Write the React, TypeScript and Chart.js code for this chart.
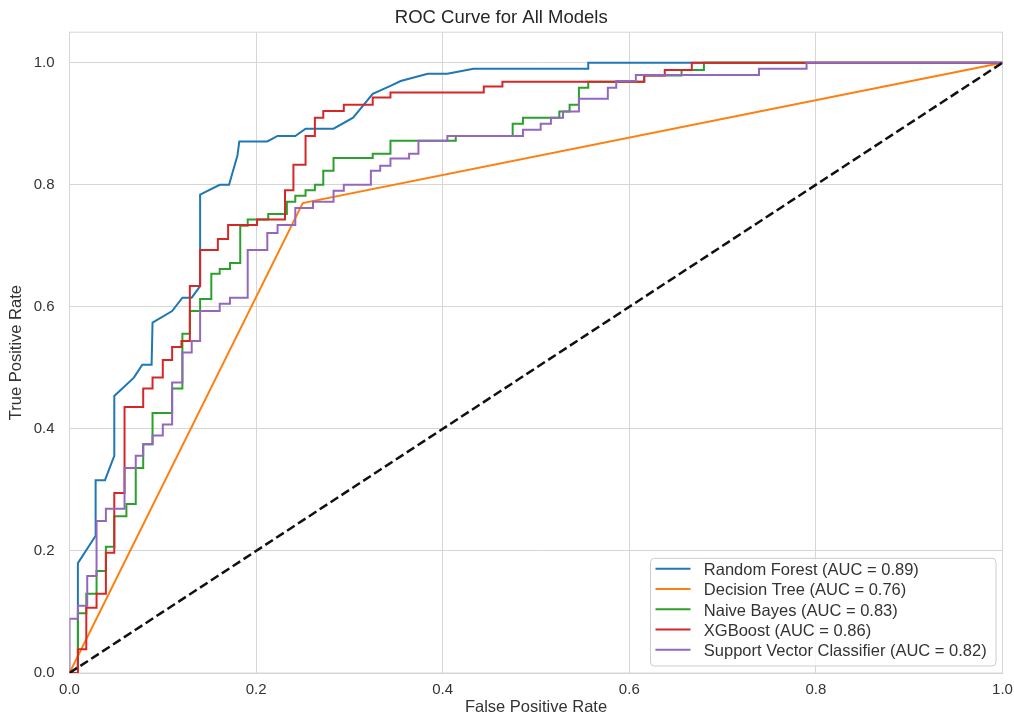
import React, { useEffect, useRef } from "react";
import { Chart, registerables } from "chart.js";

Chart.register(...registerables);

const FONT = "'Liberation Sans', Arial, Helvetica, sans-serif";
const TEXT_COLOR = "#333333";
const GRID_COLOR = "#d6d6d6";

const modelNames = ["Random Forest", "Decision Tree", "Naive Bayes", "XGBoost", "Support Vector Classifier"];
const aucValues = [0.89, 0.76, 0.83, 0.86, 0.82];
const lineColors = ["#1f77b4", "#ff7f0e", "#2ca02c", "#d62728", "#9467bd"];

const rfFpr = [0, 0.009, 0.009, 0.028, 0.028, 0.038, 0.048, 0.048, 0.069, 0.078, 0.088, 0.089, 0.11, 0.121, 0.131, 0.14, 0.14, 0.161, 0.171, 0.18, 0.182, 0.212, 0.223, 0.242, 0.253, 0.283, 0.304, 0.325, 0.344, 0.355, 0.384, 0.405, 0.433, 0.556, 0.556, 1];
const rfTpr = [0, 0.01, 0.18, 0.225, 0.316, 0.316, 0.356, 0.454, 0.484, 0.505, 0.505, 0.574, 0.593, 0.615, 0.615, 0.634, 0.784, 0.8, 0.8, 0.848, 0.871, 0.871, 0.88, 0.88, 0.892, 0.892, 0.91, 0.949, 0.962, 0.97, 0.982, 0.982, 0.99, 0.99, 1, 1];

const dtFpr = [0, 0.25, 1];
const dtTpr = [0, 0.77, 1];

const nbFpr = [0, 0.009, 0.009, 0.018, 0.018, 0.029, 0.029, 0.039, 0.039, 0.048, 0.048, 0.061, 0.061, 0.071, 0.071, 0.079, 0.079, 0.089, 0.089, 0.11, 0.11, 0.121, 0.121, 0.129, 0.129, 0.14, 0.14, 0.152, 0.152, 0.161, 0.161, 0.172, 0.172, 0.183, 0.183, 0.191, 0.191, 0.213, 0.213, 0.233, 0.233, 0.242, 0.242, 0.253, 0.253, 0.263, 0.263, 0.272, 0.272, 0.283, 0.283, 0.325, 0.325, 0.344, 0.344, 0.414, 0.414, 0.475, 0.475, 0.486, 0.486, 0.525, 0.525, 0.536, 0.536, 0.546, 0.546, 0.556, 0.556, 0.616, 0.616, 0.656, 0.656, 0.68, 0.68, 1];
const nbTpr = [0, 0, 0.098, 0.098, 0.13, 0.13, 0.167, 0.167, 0.207, 0.207, 0.257, 0.257, 0.277, 0.277, 0.336, 0.336, 0.375, 0.375, 0.426, 0.426, 0.466, 0.466, 0.556, 0.556, 0.593, 0.593, 0.613, 0.613, 0.654, 0.654, 0.662, 0.662, 0.672, 0.672, 0.733, 0.733, 0.743, 0.743, 0.752, 0.752, 0.772, 0.772, 0.782, 0.782, 0.791, 0.791, 0.8, 0.8, 0.823, 0.823, 0.844, 0.844, 0.851, 0.851, 0.872, 0.872, 0.88, 0.88, 0.9, 0.9, 0.91, 0.91, 0.92, 0.92, 0.931, 0.931, 0.959, 0.959, 0.969, 0.969, 0.979, 0.979, 0.988, 0.988, 1, 1];

const xgbFpr = [0, 0.009, 0.009, 0.018, 0.018, 0.029, 0.029, 0.039, 0.039, 0.048, 0.048, 0.059, 0.059, 0.079, 0.079, 0.089, 0.089, 0.1, 0.1, 0.11, 0.11, 0.12, 0.12, 0.129, 0.129, 0.14, 0.14, 0.159, 0.159, 0.17, 0.17, 0.201, 0.201, 0.231, 0.231, 0.24, 0.24, 0.253, 0.253, 0.263, 0.263, 0.272, 0.272, 0.294, 0.294, 0.325, 0.325, 0.344, 0.344, 0.444, 0.444, 0.464, 0.464, 0.616, 0.616, 0.638, 0.638, 0.667, 0.667, 1];
const xgbTpr = [0, 0, 0.039, 0.039, 0.107, 0.107, 0.13, 0.13, 0.197, 0.197, 0.295, 0.295, 0.436, 0.436, 0.466, 0.466, 0.484, 0.484, 0.513, 0.513, 0.534, 0.534, 0.544, 0.544, 0.634, 0.634, 0.693, 0.693, 0.711, 0.711, 0.734, 0.734, 0.743, 0.743, 0.791, 0.791, 0.833, 0.833, 0.88, 0.88, 0.91, 0.91, 0.921, 0.921, 0.931, 0.931, 0.943, 0.943, 0.951, 0.951, 0.961, 0.961, 0.969, 0.969, 0.979, 0.979, 0.988, 0.988, 1, 1];

const svcFpr = [0, 0, 0.009, 0.009, 0.019, 0.019, 0.029, 0.029, 0.039, 0.039, 0.059, 0.059, 0.071, 0.071, 0.079, 0.079, 0.089, 0.089, 0.1, 0.1, 0.11, 0.11, 0.121, 0.121, 0.131, 0.131, 0.14, 0.14, 0.161, 0.161, 0.172, 0.172, 0.191, 0.191, 0.212, 0.212, 0.223, 0.223, 0.242, 0.242, 0.261, 0.261, 0.283, 0.283, 0.294, 0.294, 0.323, 0.323, 0.333, 0.333, 0.344, 0.344, 0.364, 0.364, 0.374, 0.374, 0.405, 0.405, 0.486, 0.486, 0.505, 0.505, 0.516, 0.516, 0.529, 0.529, 0.546, 0.546, 0.577, 0.577, 0.586, 0.586, 0.607, 0.607, 0.739, 0.739, 0.79, 0.79, 1];
const svcTpr = [0, 0.089, 0.089, 0.11, 0.11, 0.159, 0.159, 0.249, 0.249, 0.269, 0.269, 0.336, 0.336, 0.356, 0.356, 0.375, 0.375, 0.389, 0.389, 0.407, 0.407, 0.476, 0.476, 0.525, 0.525, 0.544, 0.544, 0.593, 0.593, 0.605, 0.605, 0.615, 0.615, 0.693, 0.693, 0.721, 0.721, 0.734, 0.734, 0.762, 0.762, 0.772, 0.772, 0.79, 0.79, 0.8, 0.8, 0.823, 0.823, 0.831, 0.831, 0.843, 0.843, 0.851, 0.851, 0.872, 0.872, 0.88, 0.88, 0.89, 0.89, 0.9, 0.9, 0.91, 0.91, 0.92, 0.92, 0.941, 0.941, 0.959, 0.959, 0.97, 0.97, 0.98, 0.98, 0.99, 0.99, 1, 1];

const chanceFpr = [0, 1];
const chanceTpr = [0, 1];

const axisTicks = [0, 0.2, 0.4, 0.6, 0.8, 1.0];

const zip = (xs: number[], ys: number[]) => xs.map((x, i) => ({ x, y: ys[i] }));

const curveFpr = [rfFpr, dtFpr, nbFpr, xgbFpr, svcFpr];
const curveTpr = [rfTpr, dtTpr, nbTpr, xgbTpr, svcTpr];

const framePlugin = {
  id: "frameBox",
  beforeDatasetsDraw(chart: any) {
    const { ctx, chartArea } = chart;
    ctx.save();
    ctx.strokeStyle = GRID_COLOR;
    ctx.lineWidth = 1;
    ctx.strokeRect(chartArea.left, chartArea.top, chartArea.right - chartArea.left, chartArea.bottom - chartArea.top);
    ctx.restore();
  },
};

const legendPlugin = {
  id: "rocLegend",
  afterDraw(chart: any) {
    const { ctx, chartArea } = chart;
    const fontSize = 16.5;
    ctx.save();
    ctx.font = `${fontSize}px ${FONT}`;
    const labels = modelNames.map((n, i) => `${n} (AUC = ${aucValues[i].toFixed(2)})`);
    const maxW = Math.max(...labels.map((l) => ctx.measureText(l).width));
    const padL = 5, handle = 35, gap = 13.3, padR = 9.3;
    const rowH = 20.25, padT = 12.4, padB = 14.3;
    const w = padL + handle + gap + maxW + padR;
    const h = padT + rowH * (labels.length - 1) + padB;
    const right = chartArea.right - 6.5;
    const bottom = chartArea.bottom - 7;
    const left = right - w;
    const top = bottom - h;
    ctx.beginPath();
    (ctx as any).roundRect(left, top, w, h, 4);
    ctx.fillStyle = "rgba(255,255,255,0.8)";
    ctx.fill();
    ctx.strokeStyle = "#cccccc";
    ctx.lineWidth = 1;
    ctx.stroke();
    labels.forEach((l, i) => {
      const cy = top + padT + i * rowH;
      ctx.beginPath();
      ctx.moveTo(left + padL, cy - 2);
      ctx.lineTo(left + padL + handle, cy - 2);
      ctx.strokeStyle = lineColors[i];
      ctx.lineWidth = 2;
      ctx.stroke();
      ctx.fillStyle = TEXT_COLOR;
      ctx.textBaseline = "middle";
      ctx.textAlign = "left";
      ctx.fillText(l, left + padL + handle + gap, cy);
    });
    ctx.restore();
  },
};

export default function App() {
  const canvasRef = useRef<HTMLCanvasElement | null>(null);

  useEffect(() => {
    if (!canvasRef.current) return;
    const datasets: any[] = modelNames.map((name, i) => ({
      label: `${name} (AUC = ${aucValues[i].toFixed(2)})`,
      data: zip(curveFpr[i], curveTpr[i]),
      borderColor: lineColors[i],
      backgroundColor: lineColors[i],
      borderWidth: 2,
      pointRadius: 0,
      tension: 0,
      fill: false,
      order: modelNames.length - i,
    }));
    datasets.push({
      label: "Chance",
      data: zip(chanceFpr, chanceTpr),
      borderColor: "#111111",
      borderWidth: 2.5,
      borderDash: [9, 4],
      pointRadius: 0,
      fill: false,
      order: 0,
    });

    const tickFont = { family: FONT, size: 15 };
    const chart = new Chart(canvasRef.current, {
      type: "line",
      data: { datasets },
      plugins: [framePlugin, legendPlugin],
      options: {
        animation: false,
        responsive: false,
        devicePixelRatio: 1,
        layout: { padding: { left: 0, right: 11.5, top: 0, bottom: 0 } },
        plugins: {
          legend: { display: false },
          tooltip: { enabled: false },
          title: {
            display: true,
            text: "ROC Curve for All Models",
            color: "#262626",
            font: { family: FONT, size: 18.5, weight: "normal", lineHeight: 1.2 },
            padding: { top: 7, bottom: 3 },
          },
        },
        scales: {
          x: {
            type: "linear",
            min: 0,
            max: 1,
            afterBuildTicks: (scale: any) => {
              scale.ticks = axisTicks.map((v) => ({ value: v }));
            },
            afterFit: (scale: any) => {
              scale.height = 41;
              scale.paddingRight = 0;
              scale.paddingLeft = 0;
            },
            ticks: {
              color: TEXT_COLOR,
              font: tickFont,
              padding: 8,
              maxRotation: 0,
              callback: (v: any) => Number(v).toFixed(1),
            },
            grid: { color: GRID_COLOR, lineWidth: 1, drawTicks: false },
            border: { display: true, color: GRID_COLOR },
            title: {
              display: true,
              text: "False Positive Rate",
              color: TEXT_COLOR,
              font: { family: FONT, size: 16.5, lineHeight: 1 },
              padding: { top: 0, bottom: -2 },
            },
          },
          y: {
            type: "linear",
            min: 0,
            max: 1.05,
            afterBuildTicks: (scale: any) => {
              scale.ticks = axisTicks.map((v) => ({ value: v }));
            },
            afterFit: (scale: any) => {
              scale.width = 69.5;
            },
            ticks: {
              color: TEXT_COLOR,
              font: tickFont,
              padding: 15,
              callback: (v: any) => Number(v).toFixed(1),
            },
            grid: { color: GRID_COLOR, lineWidth: 1, drawTicks: false },
            border: { display: true, color: GRID_COLOR },
            title: {
              display: true,
              text: "True Positive Rate",
              color: TEXT_COLOR,
              font: { family: FONT, size: 16.5, lineHeight: 1 },
              padding: { top: 8, bottom: 0 },
            },
          },
        },
      } as any,
    });
    return () => chart.destroy();
  }, []);

  return (
    <div style={{ position: "absolute", left: 0, top: 0, width: 1014, height: 714, background: "#ffffff" }}>
      <canvas ref={canvasRef} width={1014} height={714} />
    </div>
  );
}
